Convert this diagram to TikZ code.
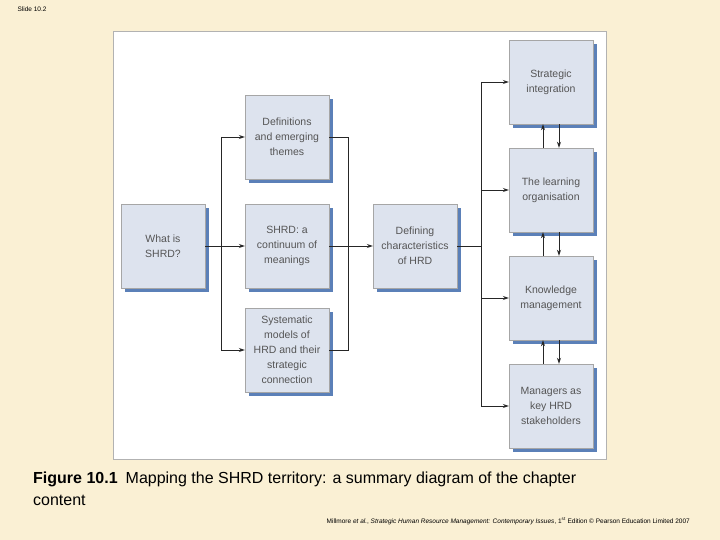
\documentclass[tikz,border=0pt]{standalone}
\usepackage{fontspec}
\setmainfont{Liberation Sans}
\usetikzlibrary{arrows.meta}
\definecolor{bg}{HTML}{FAF0D4}
\definecolor{boxf}{HTML}{DDE3EE}
\definecolor{shad}{HTML}{5B80B8}
\definecolor{txt}{HTML}{555555}
\begin{document}
\begin{tikzpicture}[x=1pt,y=-1pt,
  bx/.style={draw=gray!70,fill=boxf,minimum width=84pt,minimum height=84pt,inner sep=0pt,
    align=center,font=\fontsize{10.5}{15}\selectfont,text=txt,
    postaction={}},
  ln/.style={draw=black!85,line width=0.9pt},
  ar/.style={ln,-{Stealth[length=6pt,width=4pt]}}]
\fill[bg] (0,0) rectangle (720,540);
\useasboundingbox (0,0) rectangle (720,540);
\fill[white] (113,31) rectangle (606,459);
\draw[gray!60,line width=0.4pt] (113,31) rectangle (606,459);
\node[anchor=north west,font=\fontsize{6.5}{7}\selectfont] (sl) at (14,3) {Slide 10.2};
% shadows
\foreach \x/\y in {121/204,245/95,245/204,245/308,373/204,509/40,509/148,509/256,509/364}
  \fill[shad] (\x+4,\y+4) rectangle (\x+88,\y+88);
\node[bx] (what) at (163,246) {What is\\SHRD?};
\node[bx] (def) at (287,137) {Definitions\\and emerging\\themes};
\node[bx] (cont) at (287,246) {SHRD: a\\continuum of\\meanings};
\node[bx] (sys) at (287,350) {Systematic\\models of\\HRD and their\\strategic\\connection};
\node[bx] (dch) at (415,246) {Defining\\characteristics\\of HRD};
\node[bx] (si) at (551,82) {Strategic\\integration};
\node[bx] (lo) at (551,190) {The learning\\organisation};
\node[bx] (km) at (551,298) {Knowledge\\management};
\node[bx] (mg) at (551,406) {Managers as\\key HRD\\stakeholders};
\coordinate (b1) at (221,246);
\draw[ln] (what.east) -- (b1);
\draw[ln] (221,137) -- (221,350);
\draw[ar] (221,137) -- (def.west);
\draw[ar] (b1) -- (cont.west);
\draw[ar] (221,350) -- (sys.west);
\draw[ln] (def.east) -- (348,137) -- (348,350) -- (sys.east);
\draw[ln] (cont.east) -- (348,246);
\draw[ar] (348,246) -- (dch.west);
\draw[ln] (dch.east) -- (481,246);
\draw[ln] (481,82) -- (481,406);
\draw[ar] (481,82) -- (si.west);
\draw[ar] (481,190) -- (lo.west);
\draw[ar] (481,298) -- (km.west);
\draw[ar] (481,406) -- (mg.west);
\foreach \a/\b in {si/lo,lo/km,km/mg}{
  \draw[ar] ([xshift=-8pt]\b.north) -- ([xshift=-8pt]\a.south);
  \draw[ar] ([xshift=8pt]\a.south) -- ([xshift=8pt]\b.north);
}
\node[anchor=north west,align=left,font=\fontsize{16}{22}\selectfont,inner sep=0pt] (cap) at (33,472)
  {\textbf{Figure 10.1}\enspace Mapping the SHRD territory: a summary diagram of the chapter\\content};
\node[anchor=east,font=\fontsize{6.5}{8}\selectfont,inner sep=0pt] (ft) at (690,521)
  {Millmore \textit{et al.}, \textit{Strategic Human Resource Management: Contemporary Issues}, 1\textsuperscript{st} Edition © Pearson Education Limited 2007};
\end{tikzpicture}
\end{document}
